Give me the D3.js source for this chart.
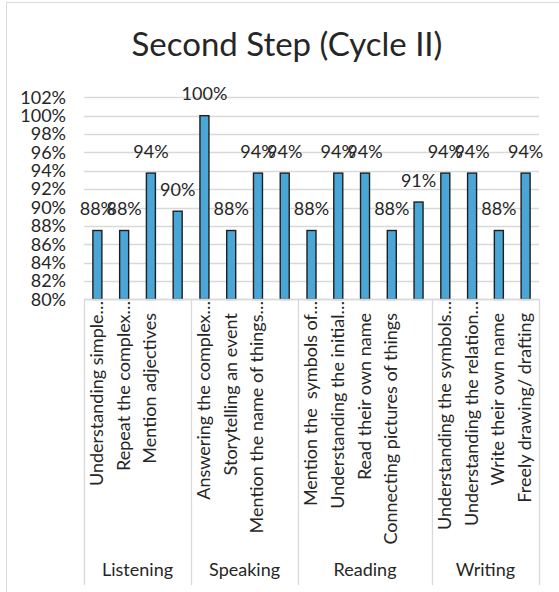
<!DOCTYPE html>
<html>
<head>
<meta charset="utf-8">
<script src="https://cdn.jsdelivr.net/npm/d3@7"></script>
<style>
  html, body { margin: 0; padding: 0; background: #fff; }
  svg { display: block; font-family: Lato, "Open Sans", sans-serif; }
</style>
</head>
<body>
<svg width="559" height="592"></svg>
<script>
// skills, in the order they appear on the axis
var categories = [
  "Understanding simple…", "Repeat the complex…", "Mention adjectives", "",
  "Answering the complex…", "Storytelling an event", "Mention the name of things…", "",
  "Mention the  symbols of…", "Understanding the initial…", "Read their own name", "Connecting pictures of things", "",
  "Understanding the symbols…", "Understanding the relation…", "Write their own name", "Freely drawing/ drafting"
];
var categoryGroup = [
  "Listening", "Listening", "Listening", "Listening",
  "Speaking", "Speaking", "Speaking", "Speaking",
  "Reading", "Reading", "Reading", "Reading", "Reading",
  "Writing", "Writing", "Writing", "Writing"
];
var groups = ["Listening", "Speaking", "Reading", "Writing"];
// percent
var values = [87.5, 87.5, 93.75, 89.6, 100, 87.5, 93.75, 93.75, 87.5, 93.75, 93.75, 87.5, 90.6, 93.75, 93.75, 87.5, 93.75];
var yTicks = [80, 82, 84, 86, 88, 90, 92, 94, 96, 98, 100, 102];
var title = "Second Step (Cycle II)";

var grid = "#d9d9d9";
var textColor = "#262626";
var fs = 18;

var svg = d3.select("svg");

// chart border
svg.append("rect")
  .attr("x", 6.5).attr("y", 2.5)
  .attr("width", 600).attr("height", 600)
  .attr("fill", "none").attr("stroke", grid);

svg.append("text")
  .attr("x", 287).attr("y", 56)
  .attr("text-anchor", "middle")
  .attr("font-size", 33)
  .attr("fill", textColor)
  .text(title);

var plotLeft = 84, plotRight = 539, plotTop = 97.3, plotBottom = 299.4;

var x = d3.scaleBand().domain(d3.range(categories.length)).range([plotLeft, plotRight]).padding(0);
var y = d3.scaleLinear().domain([80, 102]).range([plotBottom, plotTop]);

// gridlines
svg.append("g").selectAll("line")
  .data(yTicks)
  .enter().append("line")
  .attr("x1", plotLeft).attr("x2", plotRight)
  .attr("y1", function(d) { return Math.round(y(d)) + 0.5; })
  .attr("y2", function(d) { return Math.round(y(d)) + 0.5; })
  .attr("stroke", grid).attr("stroke-width", 1.3);

var yAxis = d3.axisLeft(y).tickValues(yTicks).tickSize(0).tickPadding(0)
  .tickFormat(function(d) { return d + "%"; });
svg.append("g")
  .attr("transform", "translate(66,0)")
  .call(yAxis)
  .call(function(g) {
    g.select(".domain").remove();
    g.selectAll("text").attr("font-size", fs).attr("fill", textColor)
      .attr("font-family", "Lato, 'Open Sans', sans-serif");
  });

// bars
var barW = 9;
svg.append("g").selectAll("rect")
  .data(values)
  .enter().append("rect")
  .attr("x", function(d, i) { return x(i) + x.bandwidth() / 2 - barW / 2; })
  .attr("y", function(d) { return y(d); })
  .attr("width", barW)
  .attr("height", function(d) { return y(80) - y(d); })
  .attr("fill", "#4ba6d8")
  .attr("stroke", "#1f1f1f")
  .attr("stroke-width", 1.4);

// data labels
svg.append("g").selectAll("text")
  .data(values)
  .enter().append("text")
  .attr("x", function(d, i) { return x(i) + x.bandwidth() / 2; })
  .attr("y", function(d) { return y(d) - 15.5; })
  .attr("text-anchor", "middle")
  .attr("font-size", fs)
  .attr("fill", textColor)
  .text(function(d) { return Math.round(d) + "%"; });

// category axis
svg.append("line")
  .attr("x1", plotLeft).attr("x2", plotRight)
  .attr("y1", Math.round(plotBottom) + 0.5).attr("y2", Math.round(plotBottom) + 0.5)
  .attr("stroke", grid).attr("stroke-width", 1.3);

var bounds = groups.map(function(g) {
  var idx = d3.range(categories.length).filter(function(i) { return categoryGroup[i] === g; });
  return { name: g, x0: x(idx[0]), x1: x(idx[idx.length - 1]) + x.bandwidth() };
});
var dividers = [plotLeft].concat(bounds.map(function(b) { return b.x1; }));

svg.append("g").selectAll("line")
  .data(dividers)
  .enter().append("line")
  .attr("x1", function(d) { return Math.round(d) + 0.5; })
  .attr("x2", function(d) { return Math.round(d) + 0.5; })
  .attr("y1", plotBottom).attr("y2", 585)
  .attr("stroke", grid).attr("stroke-width", 1.3);

svg.append("g").selectAll("text")
  .data(categories)
  .enter().append("text")
  .attr("transform", function(d, i) {
    var cx = x(i) + x.bandwidth() / 2 + 5.5;
    var ty = d.slice(-1) === "…" ? 301 : 313;
    return "translate(" + cx + "," + ty + ") rotate(-90)";
  })
  .attr("text-anchor", "end")
  .attr("font-size", fs)
  .attr("fill", textColor)
  .style("white-space", "pre")
  .text(function(d) { return d; });

svg.append("g").selectAll("text")
  .data(bounds)
  .enter().append("text")
  .attr("x", function(d) { return (d.x0 + d.x1) / 2; })
  .attr("y", 576)
  .attr("text-anchor", "middle")
  .attr("font-size", fs)
  .attr("fill", textColor)
  .text(function(d) { return d.name; });
</script>
</body>
</html>
